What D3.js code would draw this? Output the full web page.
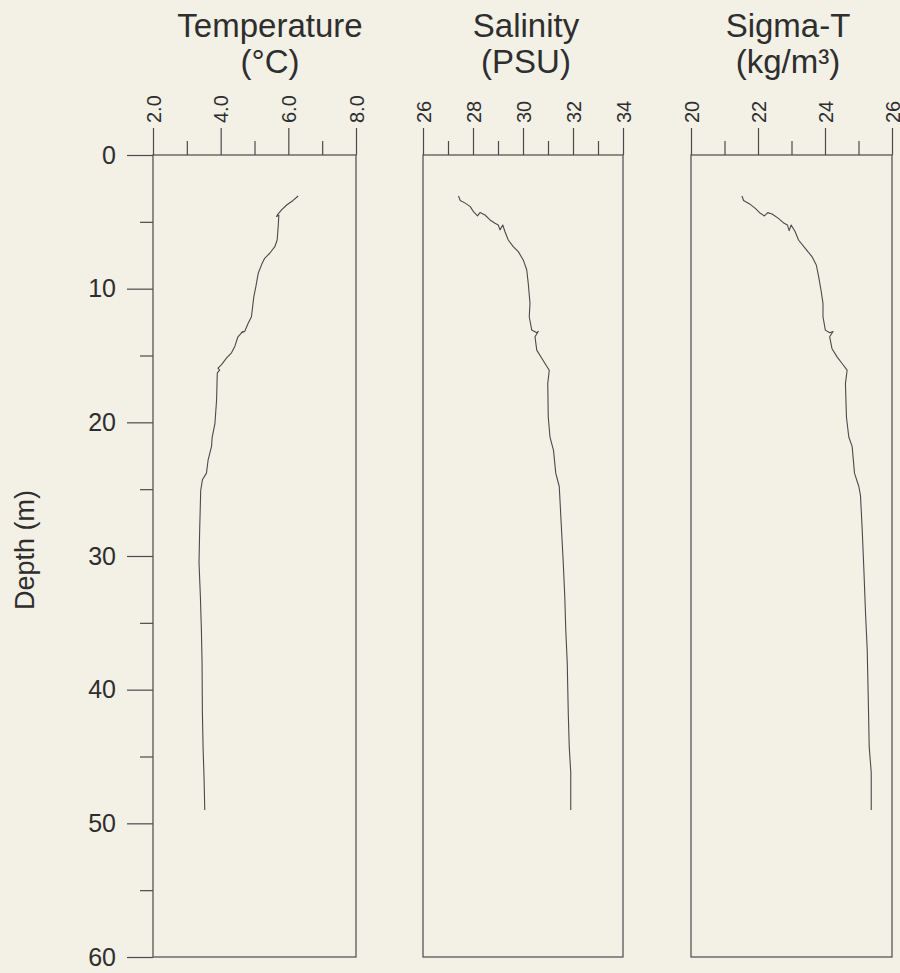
<!DOCTYPE html>
<html>
<head>
<meta charset="utf-8">
<script src="https://cdn.jsdelivr.net/npm/d3@7"></script>
<style>
  html, body { margin: 0; padding: 0; background: #f3f0e6; }
  svg { display: block; font-family: "Liberation Sans", Arial, sans-serif; }
</style>
</head>
<body>
<svg id="chart" width="900" height="973"></svg>
<script>
// panel titles
var titles = [["Temperature", "(°C)"], ["Salinity", "(PSU)"], ["Sigma-T", "(kg/m³)"]];

// x axes (top)
var tempDomain = [2, 8], tempMajor = [2, 4, 6, 8], tempMinor = [3, 5, 7];
var salDomain = [26, 34], salMajor = [26, 28, 30, 32, 34], salMinor = [27, 29, 31, 33];
var sigDomain = [20, 26], sigMajor = [20, 22, 24, 26], sigMinor = [21, 23, 25];

// depth axis
var depthDomain = [0, 60];
var depthMajor = [0, 10, 20, 30, 40, 50, 60];
var depthMinor = [5, 15, 25, 35, 45, 55];

// temperature profile
var tempDepth = [3.07, 3.4, 3.74, 4.1, 4.4, 4.6, 4.5, 5.36, 6.36, 6.86, 7.35, 7.73, 8.2, 8.85, 9.85, 10.6, 12.1, 12.6, 13.2, 13.3, 13.2, 13.6, 14.3, 14.8, 15.2, 15.7, 15.95, 16.1, 16.3, 18.3, 20.1, 21.1, 21.8, 22.8, 23.8, 24.3, 25.1, 28.0, 30.5, 33.0, 35.5, 38.0, 41.7, 44.3, 46.7, 49.0];
var tempValues = [6.29, 6.14, 5.95, 5.80, 5.70, 5.65, 5.72, 5.70, 5.67, 5.60, 5.45, 5.30, 5.21, 5.11, 5.04, 4.98, 4.91, 4.81, 4.71, 4.61, 4.66, 4.51, 4.42, 4.32, 4.17, 4.02, 3.92, 3.97, 3.90, 3.88, 3.83, 3.75, 3.73, 3.63, 3.58, 3.46, 3.41, 3.38, 3.36, 3.40, 3.43, 3.45, 3.46, 3.48, 3.51, 3.53];

// salinity profile
var salDepth = [3.07, 3.4, 3.6, 3.86, 4.24, 4.56, 4.31, 4.49, 4.86, 5.11, 5.24, 5.6, 5.24, 5.74, 6.36, 6.86, 7.23, 7.85, 8.6, 9.6, 11.1, 12.1, 13.1, 13.3, 13.2, 13.6, 14.6, 15.2, 15.6, 16.1, 17.1, 19.6, 21.1, 22.1, 23.8, 24.8, 25.5, 28.0, 30.5, 33.0, 35.5, 38.0, 41.7, 44.3, 46.2, 49.0];
var salValues = [27.42, 27.49, 27.69, 27.89, 28.02, 28.18, 28.28, 28.48, 28.68, 28.88, 29.01, 29.08, 29.19, 29.28, 29.41, 29.61, 29.81, 30.01, 30.15, 30.21, 30.28, 30.25, 30.35, 30.55, 30.61, 30.48, 30.55, 30.75, 30.88, 31.05, 30.99, 31.01, 31.08, 31.22, 31.31, 31.45, 31.47, 31.54, 31.61, 31.67, 31.71, 31.77, 31.81, 31.85, 31.91, 31.91];

// sigma-t profile
var sigDepth = [3.07, 3.4, 3.66, 3.99, 4.36, 4.56, 4.31, 4.41, 4.74, 5.11, 5.24, 5.66, 5.24, 5.74, 6.36, 6.98, 7.6, 8.23, 9.1, 10.1, 11.1, 12.1, 13.1, 13.3, 13.2, 13.6, 14.5, 15.1, 15.6, 16.1, 17.1, 19.6, 21.1, 21.8, 23.8, 24.8, 25.5, 28.0, 31.0, 34.3, 37.0, 40.5, 44.3, 46.2, 49.0];
var sigValues = [21.52, 21.57, 21.75, 21.92, 22.07, 22.19, 22.29, 22.42, 22.61, 22.78, 22.88, 22.93, 22.99, 23.11, 23.21, 23.41, 23.61, 23.74, 23.81, 23.88, 23.94, 23.94, 24.01, 24.14, 24.24, 24.14, 24.21, 24.36, 24.51, 24.66, 24.61, 24.64, 24.71, 24.81, 24.88, 25.01, 25.06, 25.11, 25.16, 25.21, 25.26, 25.29, 25.32, 25.38, 25.38];

var svg = d3.select("#chart");
var plotTop = 155, plotBottom = 957;
var inkColor = "#2e2e2e";
var lineColor = "#4a4a4a";

var y = d3.scaleLinear().domain(depthDomain).range([plotTop, plotBottom]);

// titleX: centre of the two title lines (not quite the panel centre in the original)
var panels = [
    {left: 153, right: 356, titleX: 270, domain: tempDomain, major: tempMajor, minor: tempMinor, fmt: d3.format(".1f"), depth: tempDepth, values: tempValues},
    {left: 423, right: 623, titleX: 526, domain: salDomain, major: salMajor, minor: salMinor, fmt: d3.format("d"), depth: salDepth, values: salValues},
    {left: 691, right: 892, titleX: 788, domain: sigDomain, major: sigMajor, minor: sigMinor, fmt: d3.format("d"), depth: sigDepth, values: sigValues}
];

function styleAxis(g) {
    g.select(".domain").remove();
    g.selectAll(".tick line").attr("stroke", lineColor).attr("stroke-width", 1.2);
}

panels.forEach(function (p, i) {
    var x = d3.scaleLinear().domain(p.domain).range([p.left, p.right]);
    var g = svg.append("g");

    // box
    g.append("rect")
        .attr("x", p.left)
        .attr("y", plotTop)
        .attr("width", p.right - p.left)
        .attr("height", plotBottom - plotTop)
        .attr("fill", "none")
        .attr("stroke", lineColor)
        .attr("stroke-width", 1.2);

    // minor ticks
    g.append("g")
        .attr("transform", "translate(0," + plotTop + ")")
        .call(d3.axisTop(x).tickValues(p.minor).tickSize(14).tickFormat(""))
        .call(styleAxis);

    // major ticks + rotated labels
    var ax = g.append("g")
        .attr("transform", "translate(0," + plotTop + ")")
        .call(d3.axisTop(x).tickValues(p.major).tickSize(27).tickFormat(p.fmt))
        .call(styleAxis);
    ax.selectAll(".tick text")
        .attr("transform", "translate(0,-32) rotate(-90)")
        .attr("x", 0)
        .attr("y", 0)
        .attr("dy", "0.35em")
        .attr("text-anchor", "start")
        .attr("fill", inkColor)
        .style("font-size", "20px");

    // titles
    g.selectAll(".title")
        .data(titles[i])
        .enter().append("text")
        .attr("x", p.titleX)
        .attr("y", function (d, k) { return 37 + k * 36; })
        .attr("text-anchor", "middle")
        .attr("fill", inkColor)
        .style("font-size", "33px")
        .text(function (d) { return d; });

    // profile
    var pts = p.depth.map(function (d, k) { return [p.values[k], d]; });
    var line = d3.line()
        .x(function (d) { return x(d[0]); })
        .y(function (d) { return y(d[1]); });
    g.append("path")
        .datum(pts)
        .attr("d", line)
        .attr("fill", "none")
        .attr("stroke", lineColor)
        .attr("stroke-width", 1.1)
        .attr("stroke-linejoin", "round");
});

// depth axis on the first panel
var left0 = panels[0].left;
svg.append("g")
    .attr("transform", "translate(" + left0 + ",0)")
    .call(d3.axisLeft(y).tickValues(depthMinor).tickSize(13).tickFormat(""))
    .call(styleAxis);

var dAx = svg.append("g")
    .attr("transform", "translate(" + left0 + ",0)")
    .call(d3.axisLeft(y).tickValues(depthMajor).tickSize(26).tickPadding(11))
    .call(styleAxis);
dAx.selectAll(".tick text")
    .attr("fill", inkColor)
    .style("font-size", "25px");

svg.append("text")
    .attr("transform", "translate(34,550) rotate(-90)")
    .attr("text-anchor", "middle")
    .attr("fill", inkColor)
    .style("font-size", "27px")
    .text("Depth (m)");
</script>
</body>
</html>
